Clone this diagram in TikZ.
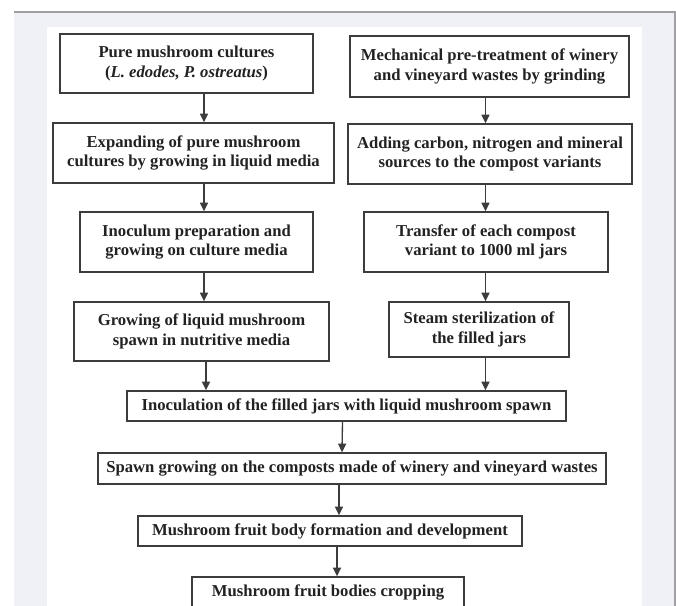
\documentclass[tikz,border=0pt]{standalone}
\usepackage{fontspec}
\setmainfont{Liberation Serif}
\usepackage{tikz}
\usetikzlibrary{positioning,arrows.meta,calc}
\definecolor{FrameGray}{RGB}{160,160,164}
\definecolor{PageBg}{RGB}{240,241,246}
\definecolor{BoxLine}{RGB}{60,60,60}
\definecolor{TextInk}{RGB}{34,34,34}
\tikzset{stepbox/.style={draw=BoxLine,line width=1pt,rectangle,align=center,inner sep=0pt,
		text=TextInk,font=\fontsize{12.5}{14.5}\selectfont\bfseries},
	flow/.style={draw=BoxLine,line width=1pt,-{Triangle[length=6.5pt,width=6pt]}}}

\begin{document}
\begin{tikzpicture}[x=0.75pt,y=-0.75pt]
	\useasboundingbox (0,0) rectangle (676,606);
	\fill[PageBg] (14,12) rectangle (676,606);
	\fill[white] (47,27) rectangle (642,606);
	\draw[FrameGray,line width=0.9pt] (14,12) -- (675,12) -- (675,606);
	\begin{scope}
	\clip (0,0) rectangle (676,606);
	\node[stepbox,minimum width=253*0.75pt,minimum height=59*0.75pt] (cult) at (186.5,63.5)
		{Pure mushroom cultures\\(\textit{L. edodes, P. ostreatus})};
	\node[stepbox,minimum width=281*0.75pt,minimum height=60*0.75pt] (expand) at (193.5,153)
		{Expanding of pure mushroom\\cultures by growing in liquid media};
	\node[stepbox,minimum width=233*0.75pt,minimum height=60*0.75pt] (inocprep) at (196.5,242)
		{Inoculum preparation and\\growing on culture media};
	\node[stepbox,minimum width=255*0.75pt,minimum height=59*0.75pt] (liquid) at (201.5,331.5)
		{Growing of liquid mushroom\\spawn in nutritive media};
	\node[stepbox,minimum width=279*0.75pt,minimum height=61*0.75pt] (grind) at (489.5,66.5)
		{Mechanical pre-treatment of winery\\and vineyard wastes by grinding};
	\node[stepbox,minimum width=284*0.75pt,minimum height=60*0.75pt] (adding) at (490,154)
		{Adding carbon, nitrogen and mineral\\sources to the compost variants};
	\node[stepbox,minimum width=244*0.75pt,minimum height=60*0.75pt] (transfer) at (486,242)
		{Transfer of each compost\\variant to 1000 ml jars};
	\node[stepbox,minimum width=180*0.75pt,minimum height=55*0.75pt] (steril) at (479,329.5)
		{Steam sterilization of\\the filled jars};
	\node[stepbox,minimum width=439*0.75pt,minimum height=30*0.75pt] (inocjars) at (346.5,406)
		{Inoculation of the filled jars with liquid mushroom spawn};
	\node[stepbox,minimum width=508*0.75pt,minimum height=31*0.75pt] (spawn) at (352,468.5)
		{Spawn growing on the composts made of winery and vineyard wastes};
	\node[stepbox,minimum width=384*0.75pt,minimum height=30*0.75pt] (fruit) at (330,531)
		{Mushroom fruit body formation and development};
	\node[stepbox,minimum width=272*0.75pt,minimum height=30*0.75pt] (crop) at (328,592)
		{Mushroom fruit bodies cropping};
	\end{scope}
	\coordinate (xl) at (204,0);
	\coordinate (xr) at (485.5,0);
	\draw[flow] (cult.south -| xl) -- (expand.north -| xl);
	\draw[flow] (expand.south -| xl) -- (inocprep.north -| xl);
	\draw[flow] (inocprep.south -| xl) -- (liquid.north -| xl);
	\draw[flow] ($(liquid.south -| xl)+(2,0)$) -- ($(inocjars.north -| xl)+(2,0)$);
	\draw[flow] (grind.south -| xr) -- (adding.north -| xr);
	\draw[flow] (adding.south -| xr) -- (transfer.north -| xr);
	\draw[flow] (transfer.south -| xr) -- (steril.north -| xr);
	\draw[flow] (steril.south -| xr) -- (inocjars.north -| xr);
	\draw[flow] ($(inocjars.south)+(-4,0)$) -- ($(spawn.north)+(-10,0)$);
	\draw[flow] ($(spawn.south)+(-13,0)$) -- ($(fruit.north)+(9,0)$);
	\draw[flow] ($(fruit.south)+(7,0)$) -- ($(crop.north)+(9,0)$);
\end{tikzpicture}
\end{document}
